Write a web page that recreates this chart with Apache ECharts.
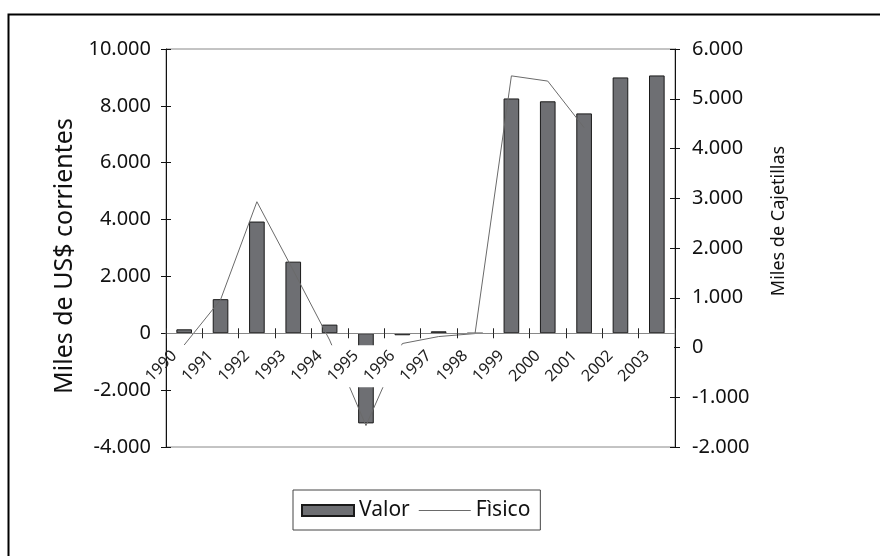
<!DOCTYPE html>
<html>
<head>
<meta charset="utf-8">
<script src="https://cdn.jsdelivr.net/npm/echarts@6/dist/echarts.min.js"></script>
<style>
html,body{margin:0;padding:0;background:#fff;}
#c{width:880px;height:556px;}
</style>
</head>
<body>
<div id="c"></div>
<script>
var years = ['1990','1991','1992','1993','1994','1995','1996','1997','1998','1999','2000','2001','2002','2003'];
var valor = [140, 1200, 3930, 2520, 305, -3170, -70, 70, 0, 8260, 8160, 7735, 9000, 9070];
var fisico = [50, 960, 2930, 1550, 150, -1570, 80, 220, 280, 5460, 5355, 4420, null, null];
var leftTicks = {min: -4000, max: 10000, interval: 2000};
var rightTicks = {min: -2000, max: 6000, interval: 1000};

function fmt(v){
  var neg = v < 0; var s = String(Math.abs(Math.round(v)));
  s = s.replace(/\B(?=(\d{3})+(?!\d))/g, '.');
  return (neg ? '-' : '') + s;
}
var FONT = 'Noto Sans';
var GRID = {left: 166, right: 205, top: 49, bottom: 109};
var plotH = 556 - GRID.top - GRID.bottom;
var zeroY = GRID.top + plotH * (leftTicks.max - 0) / (leftTicks.max - leftTicks.min);
// place category axis on the zero of the left value axis
var zeroOffset = -(556 - GRID.bottom - zeroY);

var chart = echarts.init(document.getElementById('c'));
chart.setOption({
  animation: false,
  textStyle: {fontFamily: FONT},
  graphic: [{
    // white label band under the category labels (as in the original)
    type: 'rect', left: GRID.left + 1, top: zeroY + 12, z: 5, silent: true,
    shape: {width: 880 - GRID.left - GRID.right - 2, height: 42},
    style: {fill: '#fff', stroke: null}
  }, {
    type: 'rect', left: 6, top: 12, shape: {width: 900, height: 600},
    style: {fill: 'none', stroke: '#000', lineWidth: 2}, z: 100, silent: true
  }],
  grid: {left: GRID.left, right: GRID.right, top: GRID.top, bottom: GRID.bottom, show: true, borderColor: '#888', borderWidth: 1, backgroundColor: 'transparent'},
  legend: {
    left: 293, top: 490, orient: 'horizontal',
    itemWidth: 52, itemHeight: 11, itemGap: 9, symbolKeepAspect: true,
    borderColor: '#444', borderWidth: 1, padding: [10, 10, 9, 8],
    textStyle: {fontSize: 21, color: '#111', fontFamily: FONT},
    data: [
      {name: 'Valor', icon: 'rect'},
      {name: 'Fìsico', icon: 'path://M0,0 H52 V1 H0 Z'}
    ]
  },
  xAxis: [{
    type: 'category', data: years, boundaryGap: true, position: 'bottom', offset: zeroOffset, z: 10,
    axisLine: {onZero: false, lineStyle: {color: '#888', width: 1}},
    axisTick: {show: true, alignWithLabel: false, length: 5, inside: false, lineStyle: {color: '#222'}},
    axisLabel: {rotate: 45, fontSize: 16, color: '#222', margin: 10, interval: 0, padding: [0, 14, 0, 0]}
  }, {
    type: 'category', data: years, boundaryGap: true, position: 'bottom', offset: zeroOffset, z: 10,
    axisLine: {show: false, onZero: false},
    axisTick: {show: true, alignWithLabel: false, length: 5, inside: true, lineStyle: {color: '#222'}},
    axisLabel: {show: false}
  }],
  yAxis: [{
    type: 'value', position: 'left', min: leftTicks.min, max: leftTicks.max, interval: leftTicks.interval,
    name: 'Miles de US$ corrientes', nameLocation: 'middle', nameRotate: 90, nameGap: 88,
    nameTextStyle: {fontSize: 25, color: '#111', fontFamily: FONT, padding: [0, 16, 0, 0]},
    axisLine: {show: true, lineStyle: {color: '#111'}},
    axisTick: {show: true, length: 5, lineStyle: {color: '#111'}},
    axisLabel: {fontSize: 20, color: '#111', margin: 15, formatter: fmt},
    splitLine: {show: false}
  }, {
    type: 'value', position: 'right', min: rightTicks.min, max: rightTicks.max, interval: rightTicks.interval,
    name: 'Miles de Cajetillas', nameLocation: 'middle', nameRotate: 90, nameGap: 95,
    nameTextStyle: {fontSize: 18, color: '#111', fontFamily: FONT, padding: [0, 0, 0, 54]},
    axisLine: {show: true, lineStyle: {color: '#111'}},
    axisTick: {show: true, length: 5, lineStyle: {color: '#111'}},
    axisLabel: {fontSize: 20, color: '#111', margin: 17, formatter: fmt},
    splitLine: {show: false}
  }, {
    type: 'value', position: 'left', min: leftTicks.min, max: leftTicks.max, interval: leftTicks.interval,
    axisLine: {show: false}, axisTick: {show: true, inside: true, length: 5, lineStyle: {color: '#111'}},
    axisLabel: {show: false}, splitLine: {show: false}
  }, {
    type: 'value', position: 'right', min: rightTicks.min, max: rightTicks.max, interval: rightTicks.interval,
    axisLine: {show: false}, axisTick: {show: true, inside: true, length: 5, lineStyle: {color: '#111'}},
    axisLabel: {show: false}, splitLine: {show: false}
  }],
  series: [{
    name: 'Valor', type: 'bar', data: valor, xAxisIndex: 0, yAxisIndex: 0, barWidth: '43%', z: 2,
    itemStyle: {color: '#6e6f73', borderColor: '#1a1a1a', borderWidth: 1}
  }, {
    name: 'Fìsico', type: 'line', data: fisico, xAxisIndex: 0, yAxisIndex: 1, z: 3,
    symbol: 'none', connectNulls: false,
    lineStyle: {color: '#6a6a6a', width: 1}, itemStyle: {color: '#6a6a6a'}
  }]
});
</script>
</body>
</html>
